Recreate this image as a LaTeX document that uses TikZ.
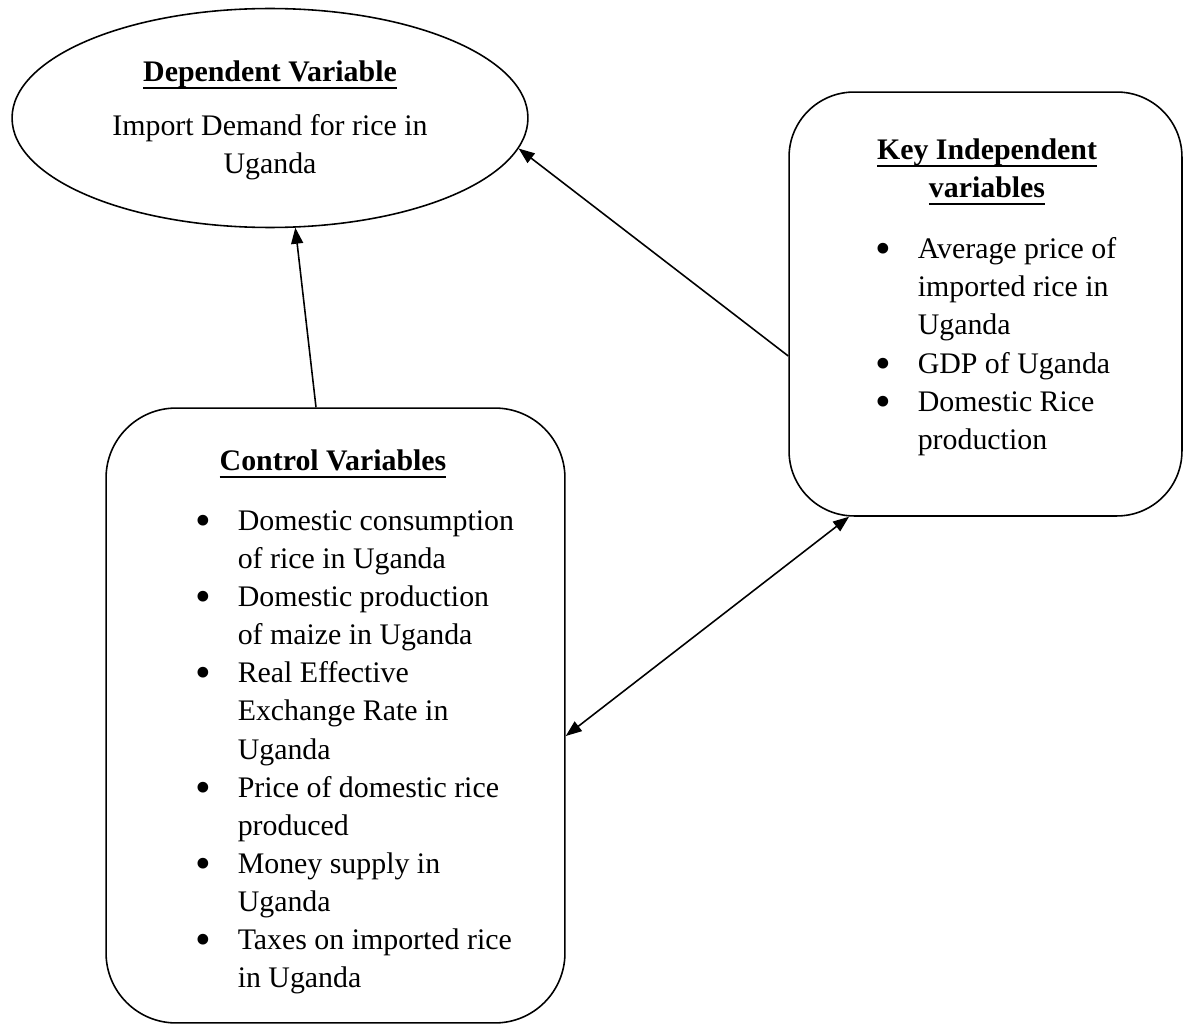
\documentclass[tikz,border=0pt]{standalone}
\usepackage{fontspec}
\setmainfont{Liberation Serif}
\usetikzlibrary{shapes.geometric,arrows.meta,calc}
\newcommand\myul[1]{\setbox0\hbox{#1}\rlap{\rule[-4pt]{\wd0}{1.3pt}}\box0}
\newcommand\bul{\makebox[0.84cm][l]{\smash{\raisebox{-0.17em}{\scalebox{1.5}{\textbullet}}}}}
\newcommand\ind{\hspace*{0.84cm}}
\begin{document}
\begin{tikzpicture}[x=0.02cm,y=-0.02cm, line width=0.9pt,
  every node/.style={font=\fontsize{17}{21.67}\selectfont, inner sep=0pt},
  txt/.style={align=left, anchor=north west},
  head/.style={align=center, font=\fontsize{17}{21.67}\selectfont\bfseries},
  arr/.style={-{Triangle[length=0.32cm,width=0.24cm]}},
  arrb/.style={{Triangle[length=0.32cm,width=0.24cm]}-{Triangle[length=0.32cm,width=0.24cm]}}]
\useasboundingbox (0,0) rectangle (1184,1024);
\fill[white] (0,0) rectangle (1184,1024);
% shapes
\node[draw, ellipse, minimum width=10.32cm, minimum height=4.38cm] (dep) at (270,118) {};
\node[draw, rounded corners=1.3cm, minimum width=7.86cm, minimum height=8.48cm] (key) at (985.5,304) {};
\node[draw, rounded corners=1.4cm, minimum width=9.18cm, minimum height=12.3cm] (ctrl) at (335.5,715.5) {};
% texts
\node[head] (deph) at (270,75) {\myul{Dependent Variable}};
\node[align=center] (dept) at (270,147) {Import Demand for rice in\\Uganda};
\node[head] (keyh) at (987,172) {\myul{Key Independent}\\\myul{variables}};
\node[txt] (keyl) at (875,237) {\bul Average price of\\\ind imported rice in\\\ind Uganda\\\bul GDP of Uganda\\\bul Domestic Rice\\\ind production};
\node[head] (ctrlh) at (333,464) {\myul{Control Variables}};
\node[txt] (ctrll) at (195,510) {\bul Domestic consumption\\\ind of rice in Uganda\\\bul Domestic production\\\ind of maize in Uganda\\\bul Real Effective\\\ind Exchange Rate in\\\ind Uganda\\\bul Price of domestic rice\\\ind produced\\\bul Money supply in\\\ind Uganda\\\bul Taxes on imported rice\\\ind in Uganda};
% connectors
\draw[arr] ([xshift=-0.39cm]ctrl.north) -- (dep.-77);
\draw[arr] ([yshift=-1.04cm]key.west) -- (dep.-7);
\draw[arrb] ([yshift=-0.41cm]ctrl.east) -- ([xshift=-2.73cm]key.south);
\end{tikzpicture}
\end{document}
